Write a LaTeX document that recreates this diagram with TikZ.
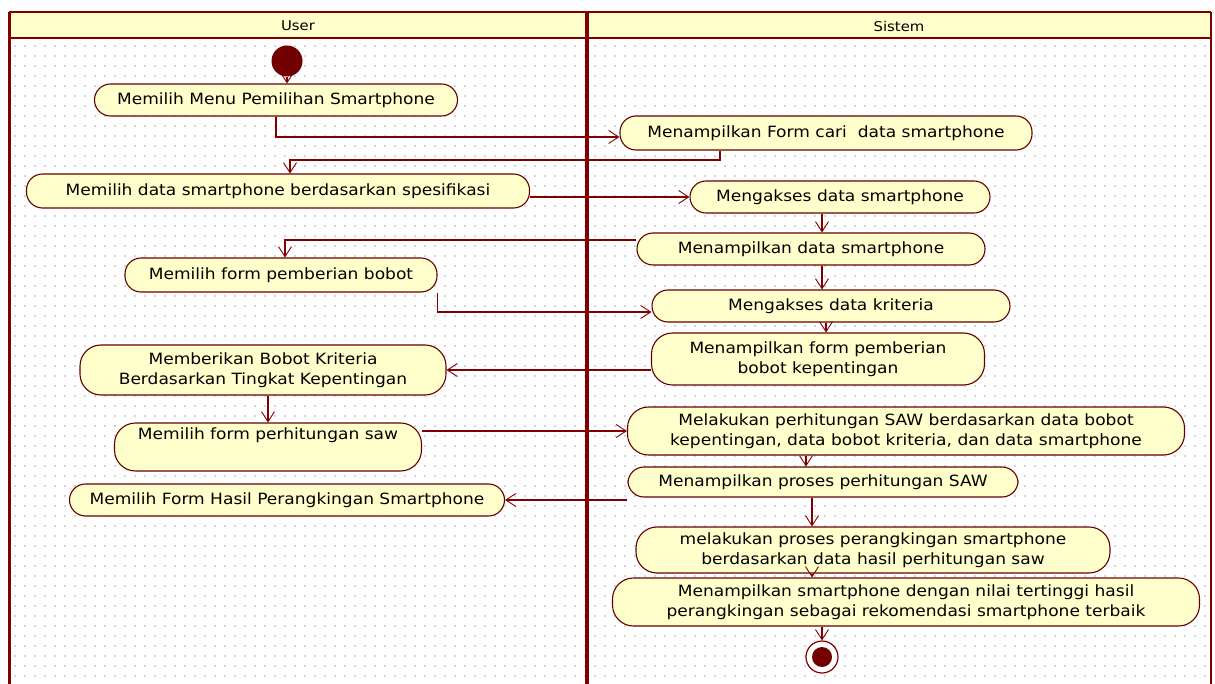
\documentclass[tikz,border=0pt]{standalone}
\usepackage{fontspec}
\setmainfont{DejaVu Sans}[FakeStretch=1.1]
\usetikzlibrary{arrows.meta}

\definecolor{laneRed}{RGB}{128,0,0}
\definecolor{actFill}{RGB}{255,255,204}
\definecolor{dotGray}{RGB}{212,212,212}

\tikzset{every picture/.style={line width=0.75pt}}
\tikzset{
  act/.style={draw=laneRed!80!black, fill=actFill, rounded corners=16pt, line width=1.1pt,
    inner xsep=10pt, inner ysep=4pt, align=center, font=\fontsize{15.5}{20}\selectfont},
  tallact/.style={act, rounded corners=21pt},
  flow/.style={draw=laneRed, line width=1.3pt, -{Straight Barb[length=10pt,width=13pt,line width=0.9pt]}},
  lanehead/.style={font=\fontsize{13.5}{15}\selectfont},
  dotrow/.style={draw=dotGray, line width=1.4pt, dash pattern=on 1.4pt off 8.6pt},
}

\begin{document}
\begin{tikzpicture}[x=1pt,y=1pt,yscale=-1,xscale=1]
	\useasboundingbox (0,0) rectangle (1215,684);

	%dot grid
	\foreach \y in {46,56,...,680} {\draw[dotrow] (14.3,\y) -- (1206,\y);}

	%header and swimlanes
	\fill[actFill] (9,12) rectangle (1211,38);
	\draw[laneRed, line width=1.5pt] (9,12) -- (1211,12);
	\draw[laneRed, line width=1.5pt] (9,38) -- (1211,38);
	\draw[laneRed, line width=3pt] (9,12) -- (9,684);
	\draw[laneRed, line width=4pt] (587,12) -- (587,684);
	\draw[laneRed, line width=2pt] (1211,12) -- (1211,684);
	\node[lanehead] (userLane) at (298,26) {User};
	\node[lanehead] (sysLane) at (899,26) {Sistem};

	%start / end
	\node[circle, fill=laneRed!90!black, minimum size=31pt, inner sep=0pt] (start) at (287,61) {};
	\node[circle, draw=laneRed, fill=white, line width=1.2pt, minimum size=32pt, inner sep=0pt] (stop) at (822,657) {};
	\node[circle, fill=laneRed!90!black, minimum size=20pt, inner sep=0pt] (stopDot) at (stop) {};

	%User activities
	\node[act, minimum width=363pt, minimum height=32pt] (A1) at (276,100) {Memilih Menu Pemilihan Smartphone};
	\node[act, minimum width=503pt, minimum height=34pt] (A2) at (278,191) {Memilih data smartphone berdasarkan spesifikasi};
	\node[act, minimum width=312pt, minimum height=34pt] (A3) at (281,275) {Memilih form pemberian bobot};
	\node[tallact, minimum width=366pt, minimum height=50pt] (A4) at (263,370) {Memberikan Bobot Kriteria\\Berdasarkan Tingkat Kepentingan};
	\node[tallact, minimum width=307pt, minimum height=48pt, text depth=26pt] (A5) at (268,447) {Memilih form perhitungan saw};
	\node[act, minimum width=435pt, minimum height=32pt] (A6) at (287,500) {Memilih Form Hasil Perangkingan Smartphone};

	%Sistem activities
	\node[act, minimum width=412pt, minimum height=34pt] (S1) at (826,133) {Menampilkan Form cari~~data smartphone};
	\node[act, minimum width=300pt, minimum height=32pt] (S2) at (840,197) {Mengakses data smartphone};
	\node[act, minimum width=348pt, minimum height=32pt] (S3) at (811,249) {Menampilkan data smartphone};
	\node[act, minimum width=358pt, minimum height=32pt] (S4) at (831,306) {Mengakses data kriteria};
	\node[tallact, minimum width=333pt, minimum height=52pt] (S5) at (818,359) {Menampilkan form pemberian\\bobot kepentingan};
	\node[tallact, minimum width=557pt, minimum height=48pt] (S6) at (906,431) {Melakukan perhitungan SAW berdasarkan data bobot\\kepentingan, data bobot kriteria, dan data smartphone};
	\node[act, minimum width=390pt, minimum height=30pt] (S7) at (823,482) {Menampilkan proses perhitungan SAW};
	\node[tallact, minimum width=474pt, minimum height=46pt] (S8) at (873,550) {melakukan proses perangkingan smartphone\\berdasarkan data hasil perhitungan saw};
	\node[tallact, minimum width=587pt, minimum height=48pt] (S9) at (906,602) {Menampilkan smartphone dengan nilai tertinggi hasil\\perangkingan sebagai rekomendasi smartphone terbaik};

	%bends
	\coordinate (bendA) at (720,160);
	\coordinate (bendB) at (290,160);

	%transitions
	\draw[flow] (start) -- (start |- A1.north);
	\draw[flow] (A1.south) |- ([yshift=4pt]S1.west);
	\draw[flow] (S1.south -| bendA) -- (bendA) -- (bendB) -- (A2.north -| bendB);
	\draw[flow] (A2.east |- S2.west) -- (S2.west);
	\draw[flow] ([xshift=-18pt]S2.south) -- ([xshift=-18pt]S2.south |- S3.north);
	\draw[flow] ([yshift=-9pt]S3.west) -| ([xshift=4pt]A3.north);
	\draw[flow] ([xshift=11pt]S3.south) -- ([xshift=11pt]S3.south |- S4.north);
	\draw[flow] (A3.south east) |- ([yshift=6pt]S4.west);
	\draw[flow] ([xshift=-5pt]S4.south) -- ([xshift=-5pt]S4.south |- S5.north);
	\draw[flow] (S5.west |- A4.east) -- (A4.east);
	\draw[flow] (A4.south -| A5.north) -- (A5.north);
	\draw[flow] (A5.east |- S6.west) -- (S6.west);
	\draw[flow] ([xshift=-100pt]S6.south) -- ([xshift=-100pt]S6.south |- S7.north);
	\draw[flow] (S7.south west |- A6.east) -- (A6.east);
	\draw[flow] ([xshift=-11pt]S7.south) -- ([xshift=-11pt]S7.south |- S8.north);
	\draw[flow] ([xshift=-61pt]S8.south) -- ([xshift=-61pt]S8.south |- S9.north);
	\draw[flow] (S9.south -| stop) -- (stop.north);

\end{tikzpicture}
\end{document}
